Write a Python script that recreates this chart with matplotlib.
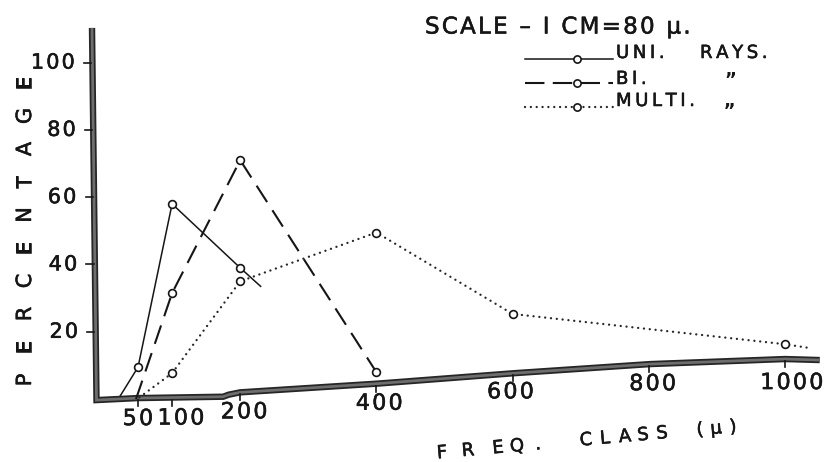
import numpy as np
import matplotlib
matplotlib.use("Agg")
import matplotlib.pyplot as plt
import matplotlib.patheffects as pe
from matplotlib.lines import Line2D

plt.rcParams["font.family"] = ["DejaVu Sans"]
plt.rcParams["lines.scale_dashes"] = False

# Percentage of rays per frequency class (μ)
uni_x = [24, 50, 100, 200, 230]
uni_y = [1.0, 9.5, 58, 39, 33.5]
bi_x = [47, 100, 200, 400]
bi_y = [0.0, 31.5, 71, 8]
multi_x = [52, 100, 200, 400, 600, 1000, 1032]
multi_y = [0.5, 7.7, 35, 49.5, 25.3, 16.3, 15.3]

x_ticks = [50, 100, 200, 400, 600, 800, 1000]
y_ticks = [20, 40, 60, 80, 100]
series_names = ["UNI.", "BI.", "MULTI."]

W, H, DPI = 829, 462, 100
INK = "#161616"
HAIR = "\u200a"
THIN = "\u2009"

# hand-ruled axis: the baseline bows upward towards the right
axis_curve_x = [-13, 50, 175, 183, 200, 402, 603, 802, 1000, 1051]
axis_curve_y = [-0.3, 0.3, 0.7, 1.3, 2.0, 4.6, 7.7, 10.4, 11.9, 11.6]
yaxis_top = (-17.6, 110.3)
yaxis_foot = (-11.0, -0.3)

# pen-like thickening of the lettering
PEN = [pe.Stroke(linewidth=0.4, foreground=INK), pe.Normal()]


def fxy(px, py):
    """pixel position (from top-left) -> figure fraction"""
    return px / W, 1 - py / H


def tracked(s, gap=HAIR):
    return gap.join(s)


fig = plt.figure(figsize=(W / DPI, H / DPI), dpi=DPI)
fig.patch.set_facecolor("white")
ax = fig.add_axes([0, 0, 1, 1])
ax.set_xlim(-152.7, 1064.6)
ax.set_ylim(-18.7, 118.6)
ax.axis("off")

# axes frame (thick ruled line with a dark edge)
frame_x = [yaxis_top[0], yaxis_foot[0]] + axis_curve_x[1:]
frame_y = [yaxis_top[1], yaxis_foot[1]] + axis_curve_y[1:]
ax.plot(frame_x, frame_y, color="#6e6e6e", lw=2.0, solid_joinstyle="miter",
        solid_capstyle="butt", zorder=2,
        path_effects=[pe.Stroke(linewidth=4.6, foreground="#262626",
                                joinstyle="miter", capstyle="butt"),
                      pe.Normal()])


def yaxis_x(v):
    return yaxis_foot[0] + (yaxis_top[0] - yaxis_foot[0]) * v / (yaxis_top[1] - yaxis_foot[1])


# y ticks and labels
for v in y_ticks:
    x0 = yaxis_x(v)
    ax.plot([x0 - 12.5, x0 - 2], [v, v], color=INK, lw=1.2, zorder=2)
    ax.annotate(tracked(str(v)), xy=(x0 - 12.5, v), xytext=(-6.5, 0),
                textcoords="offset points", ha="right", va="center",
                fontsize=15, color=INK, path_effects=PEN)

# x ticks and labels, following the bowed baseline
x_nudge = {50: 0, 100: 9, 200: 4, 400: 3, 600: -2, 800: 4, 1000: 7}
x_drop = {50: 21, 100: 21, 200: 20, 400: 20, 600: 19, 800: 20, 1000: 24}
for v in x_ticks:
    yb = np.interp(v, axis_curve_x, axis_curve_y)
    ax.plot([v, v], [yb - 0.6, yb - 2.4], color=INK, lw=1.2, zorder=2)
    ax.annotate(tracked(str(v)), xy=(v, yb), xytext=(x_nudge[v] * 0.72, -x_drop[v] * 0.72),
                textcoords="offset points", ha="center", va="center",
                fontsize=16, color=INK, path_effects=PEN)

# data series
mk = dict(marker="o", markersize=5.6, markerfacecolor="white",
          markeredgecolor=INK, markeredgewidth=1.2)
ax.plot(uni_x, uni_y, color=INK, lw=1.1, markevery=[1, 2, 3], zorder=3, **mk)
ax.plot(bi_x, bi_y, color=INK, lw=1.5, dashes=[14, 7], markevery=[1, 2, 3],
        zorder=3, **mk)
ax.plot(multi_x, multi_y, color="#262626", lw=1.7, dashes=[0.01, 4.2],
        dash_capstyle="round", markevery=[1, 2, 3, 4, 5], zorder=3, **mk)

# title
fig.text(*fxy(425, 27), tracked("SCALE – I CM=80 μ."), ha="left", va="center",
         fontsize=16.5, color=INK, path_effects=PEN)

# key
key_rows = [59, 83, 107]
key_styles = [dict(lw=1.1), dict(lw=1.5, dashes=[14, 6]),
              dict(lw=1.7, dashes=[0.01, 4.2], dash_capstyle="round", color="#262626")]
for row, style in zip(key_rows, key_styles):
    x0, y0 = fxy(525, row)
    x1, _ = fxy(613, row)
    xm, _ = fxy(577, row)
    st = dict(color=INK)
    st.update(style)
    fig.add_artist(Line2D([x0, x1], [y0, y0], transform=fig.transFigure, **st))
    fig.add_artist(Line2D([xm], [y0], transform=fig.transFigure, marker="o",
                          markersize=5.2, markerfacecolor="white",
                          markeredgecolor=INK, markeredgewidth=1.2, lw=0))

text_rows = [53, 79, 101]
for name, ty in zip(series_names, text_rows):
    fig.text(*fxy(616, ty), tracked(name, THIN), ha="left", va="center",
             fontsize=13, color=INK, path_effects=PEN)
fig.text(*fxy(700, 53), tracked("RAYS.", THIN), ha="left", va="center",
         fontsize=13, color=INK, path_effects=PEN)
fig.text(*fxy(730, 80), "\u201d", ha="center", va="center", fontsize=13,
         color=INK, fontweight="bold")
fig.text(*fxy(730, 102), "\u201e", ha="center", va="center", fontsize=13,
         color=INK, fontweight="bold")

# axis titles, hand-lettered with wide spacing
ylab = "PERCENTAGE"
for i, ch in enumerate(ylab):
    cy = 380 - i * (380 - 83) / (len(ylab) - 1)
    fig.text(*fxy(25, cy), ch, rotation=90, ha="center", va="center",
             fontsize=15, color=INK, path_effects=PEN)

xlab = "FREQ.CLASS(μ)"
xlab_cx = [442, 468, 498, 517, 538, 586, 605, 625, 643, 662, 700, 716, 733]
for ch, cx in zip(xlab, xlab_cx):
    cy = 453 - (cx - 442) * 0.089
    fig.text(*fxy(cx, cy), ch, rotation=5, rotation_mode="anchor",
             ha="center", va="center", fontsize=13, color=INK, path_effects=PEN)

fig.savefig("out.png", dpi=DPI, facecolor="white")
